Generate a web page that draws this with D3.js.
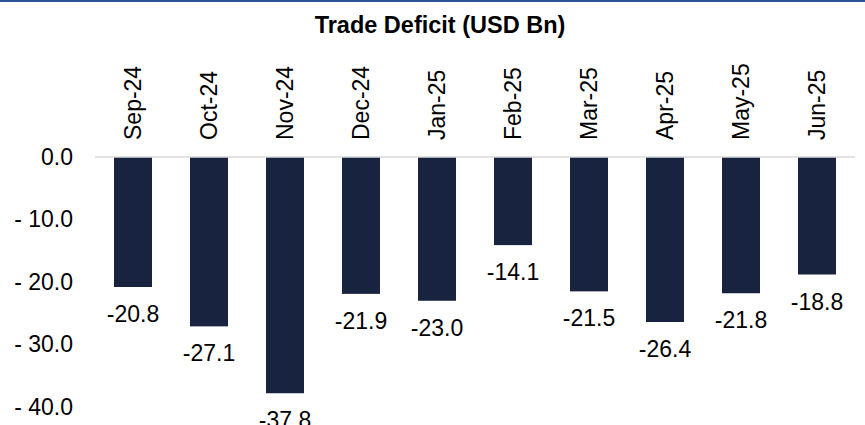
<!DOCTYPE html>
<html><head><meta charset="utf-8">
<script src="https://cdn.jsdelivr.net/npm/d3@7"></script>
<style>body{margin:0;background:#fff}svg{display:block;font-family:"Liberation Sans",Arial,sans-serif}</style>
</head><body><svg id="c" width="865" height="425"></svg>
<script>
const categories = ["Sep-24","Oct-24","Nov-24","Dec-24","Jan-25","Feb-25","Mar-25","Apr-25","May-25","Jun-25"];
const values = [-20.8,-27.1,-37.8,-21.9,-23.0,-14.1,-21.5,-26.4,-21.8,-18.8];
const yTicks = [0,-10,-20,-30,-40];
const title = "Trade Deficit (USD Bn)";

const svg = d3.select("#c");
svg.append("rect").attr("x",0).attr("y",0).attr("width",865).attr("height",2).attr("fill","#2c5697");
svg.append("text").attr("x",440).attr("y",33).attr("text-anchor","middle")
  .attr("font-weight","bold").attr("font-size",23.5).attr("fill","#000").text(title);

const x = d3.scaleBand().domain(categories).range([95,855]).paddingInner(0.5).paddingOuter(0.25);
const y = d3.scaleLinear().domain([-40,0]).range([407,157]);

const yAxis = svg.append("g").attr("transform","translate(73,0)")
  .call(d3.axisLeft(y).tickValues(yTicks).tickSize(0).tickPadding(0)
  .tickFormat(d => d===0 ? "0.0" : "- " + Math.abs(d).toFixed(1)));
yAxis.select(".domain").remove();
yAxis.selectAll("text").attr("font-size",23).attr("fill","#000").attr("font-family","Liberation Sans, Arial, sans-serif");

svg.selectAll("rect.bar").data(values).join("rect").attr("class","bar")
  .attr("x",(d,i)=>x(categories[i])).attr("width",x.bandwidth())
  .attr("y",y(0)).attr("height",d=>y(d)-y(0)).attr("fill","#17233f");

svg.append("line").attr("x1",95).attr("x2",855).attr("y1",y(0)).attr("y2",y(0))
  .attr("stroke","#d9d9d9").attr("stroke-width",1.5);

svg.selectAll("text.val").data(values).join("text").attr("class","val")
  .attr("x",(d,i)=>x(categories[i])+x.bandwidth()/2).attr("y",d=>y(d)+35)
  .attr("text-anchor","middle").attr("font-size",23).attr("fill","#000")
  .text(d=>d.toFixed(1));

svg.selectAll("text.cat").data(categories).join("text").attr("class","cat")
  .attr("transform",d=>`translate(${x(d)+x.bandwidth()/2+8},140) rotate(-90)`)
  .attr("text-anchor","start").attr("font-size",23).attr("fill","#000").text(d=>d);
</script></body></html>
